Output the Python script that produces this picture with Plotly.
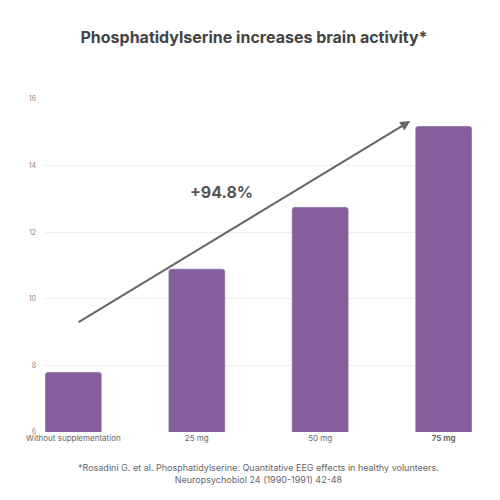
import plotly.graph_objects as go

categories = ["Without supplementation", "25 mg", "50 mg", "75 mg"]
tick_text = ["Without supplementation", "25 mg", "50 mg", "<b>75 mg</b>"]
values = [7.8, 10.9, 12.76, 15.19]
y_ticks = [6, 8, 10, 12, 14, 16]

font = "Inter, Lato, sans-serif"

fig = go.Figure()
fig.add_trace(go.Bar(
    x=categories,
    y=values,
    marker=dict(color="#865e9c", cornerradius=3),
    width=0.46,
    hoverinfo="x+y",
))

# trend arrow
fig.add_annotation(
    x=2.73, y=15.34, ax=0.03, ay=9.27,
    xref="x", yref="y", axref="x", ayref="y",
    showarrow=True, arrowhead=2, arrowsize=1, arrowwidth=2,
    arrowcolor="#666666", text="",
)
fig.add_annotation(
    x=1.2, y=13.2, xref="x", yref="y", showarrow=False,
    text="<b>+94.8%</b>", font=dict(size=16, color="#555555", family=font),
)
fig.add_annotation(
    x=0.5, y=-0.126, xref="paper", yref="paper", yanchor="middle",
    showarrow=False,
    text="*Rosadini G. et al. Phosphatidylserine: Quantitative EEG effects in healthy volunteers.<br>"
         "Neuropsychobiol 24 (1990-1991) 42-48",
    font=dict(size=9, color="#666666", family=font), align="center",
)

fig.update_layout(
    width=492, height=492,
    margin=dict(l=37, r=28, t=91, b=68),
    paper_bgcolor="white", plot_bgcolor="white",
    title=dict(text="<b>Phosphatidylserine increases brain activity*</b>",
               x=0.5, xanchor="center", y=0.941, yanchor="middle",
               font=dict(size=16, color="#444444", family=font)),
    showlegend=False,
    font=dict(family=font, color="#777777"),
)
fig.update_xaxes(
    range=[-0.23, 3.23], tickvals=categories, ticktext=tick_text,
    tickfont=dict(size=8, color="#666666"), showgrid=False,
    showline=False, ticks="", ticklabelstandoff=0,
)
fig.update_yaxes(
    range=[6, 16], tickvals=y_ticks, tickfont=dict(size=7, color="#888888"),
    showgrid=True, gridcolor="#eeeeee", gridwidth=1, zeroline=False,
    showline=False, ticks="", ticklabelstandoff=8,
)

fig.write_html("out.html")
